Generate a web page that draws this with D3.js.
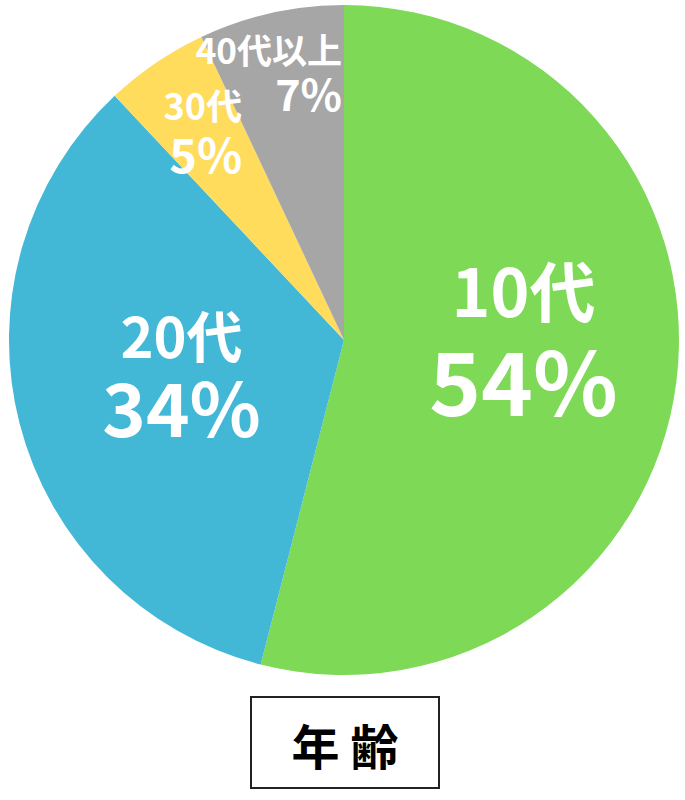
<!DOCTYPE html>
<html>
<head>
<meta charset="utf-8">
<script src="https://cdn.jsdelivr.net/npm/d3@7"></script>
<style>
  body { margin: 0; background: #fff; }
  text { font-family: "Noto Sans CJK JP", "Noto Sans", sans-serif; font-weight: bold; }
</style>
</head>
<body>
<svg id="chart" width="685" height="800"></svg>
<script>
// chart data
let categories = ['10代', '20代', '30代', '40代以上']
let values = [54, 34, 5, 7]
let colors = ['#7ed957', '#42b7d6', '#ffdc5c', '#a6a6a6']
let title = '年 齢'

const cx = 344
const cy = 340
const radius = 335

// label placement per slice: radius fraction, line offsets, font sizes
const labelStyle = [
    { rf: 0.54, anchor: 'middle', dx: [0, 0], dy: [-46, 53], size: [66, 88] },
    { rf: 0.51, anchor: 'middle', dx: [3, 3], dy: [-24, 55], size: [56, 74] },
    { rf: 0.75, anchor: 'middle', dx: [0, 3], dy: [-12, 41], size: [36, 47] },
    { rf: 0.81, anchor: 'end', dx: [0, 0], dy: [-11, 36], size: [35, 43] }
]

let svg = d3.select('#chart')

let pieData = categories.map((c, i) => ({ label: c, value: values[i], color: colors[i] }))

let pie = d3.pie()
    .value(d => d.value)
    .sort(null)

let arc = d3.arc()
    .innerRadius(0)
    .outerRadius(radius)

let arcs = pie(pieData)

let g = svg.append('g')
    .attr('transform', `translate(${cx},${cy})`)

g.selectAll('path')
    .data(arcs)
    .enter()
    .append('path')
    .attr('d', arc)
    .attr('fill', d => d.data.color)

let labels = g.selectAll('g.label')
    .data(arcs)
    .enter()
    .append('g')
    .attr('class', 'label')
    .attr('transform', (d, i) => {
        let st = labelStyle[i]
        let mid = (d.startAngle + d.endAngle) / 2
        let r = radius * st.rf
        let x = r * Math.sin(mid)
        let y = -r * Math.cos(mid)
        if (st.anchor === 'end') {
            // right-align against the 12 o'clock edge of the slice
            x = -2
        }
        return `translate(${x},${y})`
    })

labels.append('text')
    .attr('text-anchor', (d, i) => labelStyle[i].anchor)
    .attr('x', (d, i) => labelStyle[i].dx[0])
    .attr('y', (d, i) => labelStyle[i].dy[0])
    .attr('font-size', (d, i) => labelStyle[i].size[0])
    .attr('fill', '#fff')
    .text(d => d.data.label)

labels.append('text')
    .attr('text-anchor', (d, i) => labelStyle[i].anchor)
    .attr('x', (d, i) => labelStyle[i].dx[1])
    .attr('y', (d, i) => labelStyle[i].dy[1])
    .attr('font-size', (d, i) => labelStyle[i].size[1])
    .attr('fill', '#fff')
    .text(d => d.data.value + '%')

// title box
svg.append('rect')
    .attr('x', 251)
    .attr('y', 697)
    .attr('width', 188)
    .attr('height', 91)
    .attr('fill', '#fff')
    .attr('stroke', '#222')
    .attr('stroke-width', 2)

svg.append('text')
    .attr('x', 345)
    .attr('y', 765)
    .attr('text-anchor', 'middle')
    .attr('font-size', 48)
    .attr('fill', '#000')
    .text(title)
</script>
</body>
</html>
